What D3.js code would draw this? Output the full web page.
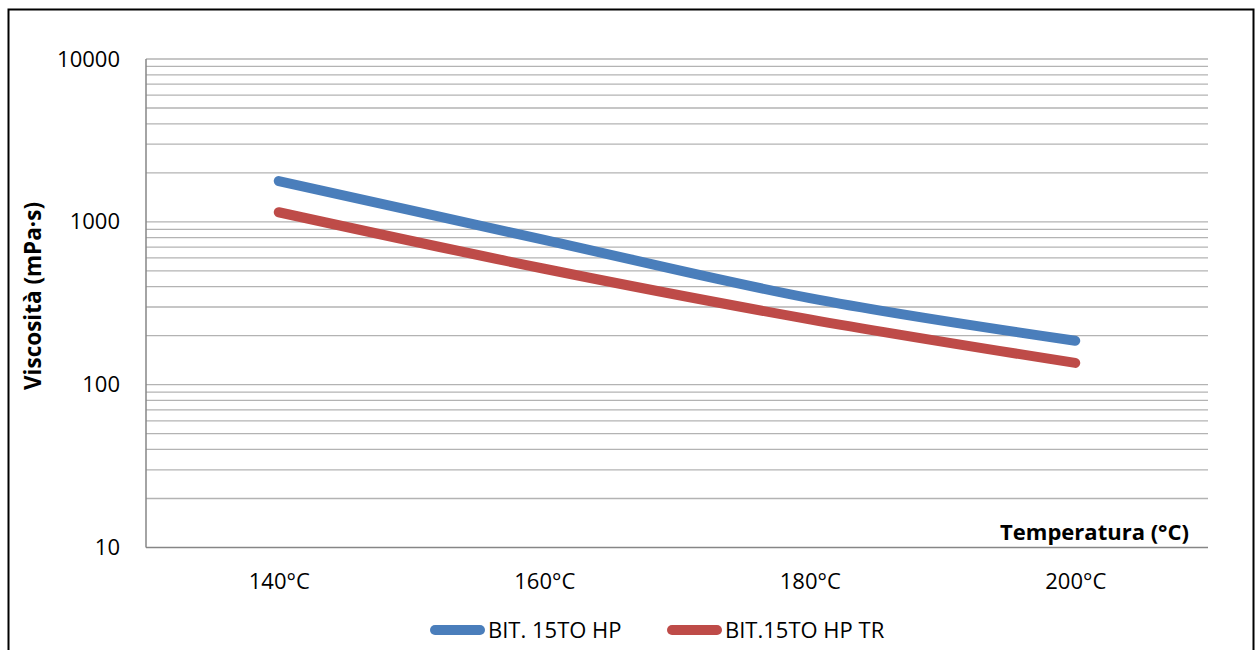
<!DOCTYPE html>
<html>
<head>
<meta charset="utf-8">
<script src="https://cdn.jsdelivr.net/npm/d3@7"></script>
<style>
  html, body { margin: 0; padding: 0; background: #fff; }
  svg { display: block; font-family: "Open Sans", Lato, sans-serif; }
</style>
</head>
<body>
<div id="chart"></div>
<script>
const categories = ['140°C', '160°C', '180°C', '200°C'];
const seriesNames = ['BIT. 15TO HP', 'BIT.15TO HP TR'];
const hpValues = [1780, 775, 340, 186];
const hpTrValues = [1145, 515, 252, 136];
const yTickValues = [10, 100, 1000, 10000];
const seriesColors = ['#4a7ebb', '#be4b48'];

const width = 1258;
const height = 650;
const plotLeft = 146, plotRight = 1208, plotTop = 59, plotBottom = 547.5;

const series = [
  { name: seriesNames[0], values: hpValues, color: seriesColors[0] },
  { name: seriesNames[1], values: hpTrValues, color: seriesColors[1] }
];

const svg = d3.select('#chart').append('svg')
  .attr('width', width)
  .attr('height', height);

// outer frame
svg.append('rect')
  .attr('x', 8.5).attr('y', 9.5)
  .attr('width', 1245).attr('height', 700)
  .attr('fill', 'none')
  .attr('stroke', '#000')
  .attr('stroke-width', 2);

const x = d3.scalePoint().domain(categories).range([plotLeft, plotRight]).padding(0.5);
const y = d3.scaleLog().domain([10, 10000]).range([plotBottom, plotTop]);

// gridlines, minor and major
svg.append('g')
  .selectAll('line')
  .data(y.ticks().filter(d => d > 10))
  .join('line')
  .attr('x1', plotLeft).attr('x2', plotRight)
  .attr('y1', d => y(d)).attr('y2', d => y(d))
  .attr('stroke', '#b3b3b3')
  .attr('stroke-width', 1.3);

// axis lines
svg.append('line')
  .attr('x1', plotLeft).attr('x2', plotLeft).attr('y1', plotTop).attr('y2', plotBottom)
  .attr('stroke', '#868686').attr('stroke-width', 1.5);
svg.append('line')
  .attr('x1', plotLeft).attr('x2', plotRight).attr('y1', plotBottom).attr('y2', plotBottom)
  .attr('stroke', '#868686').attr('stroke-width', 1.5);

const yAxis = svg.append('g')
  .attr('transform', `translate(${plotLeft},0)`)
  .call(d3.axisLeft(y).tickValues(yTickValues).tickFormat(d3.format('d')).tickSize(0).tickPadding(26));
yAxis.select('.domain').remove();
yAxis.selectAll('text').attr('font-size', 22).attr('fill', '#000').attr('font-family', '"Open Sans", sans-serif');

const xAxis = svg.append('g')
  .attr('transform', `translate(0,${plotBottom})`)
  .call(d3.axisBottom(x).tickSize(0).tickPadding(26));
xAxis.select('.domain').remove();
xAxis.selectAll('text').attr('font-size', 22).attr('fill', '#000').attr('font-family', '"Open Sans", sans-serif');

// series lines
const line = d3.line()
  .x((d, i) => x(categories[i]))
  .y(d => y(d))
  .curve(d3.curveCatmullRom);

svg.append('g')
  .selectAll('path')
  .data(series)
  .join('path')
  .attr('d', d => line(d.values))
  .attr('fill', 'none')
  .attr('stroke', d => d.color)
  .attr('stroke-width', 10)
  .attr('stroke-linecap', 'round')
  .attr('stroke-linejoin', 'round');

// axis titles
svg.append('text')
  .attr('transform', 'translate(41,296) rotate(-90)')
  .attr('text-anchor', 'middle')
  .attr('font-size', 22.5)
  .attr('font-weight', 'bold')
  .text('Viscosità (mPa·s)');

svg.append('text')
  .attr('x', 1189).attr('y', 540)
  .attr('text-anchor', 'end')
  .attr('font-size', 22)
  .attr('font-weight', 'bold')
  .text('Temperatura (°C)');

// legend
const legendX = [435, 672];
const legend = svg.append('g')
  .selectAll('g')
  .data(series)
  .join('g')
  .attr('transform', (d, i) => `translate(${legendX[i]},630)`);
legend.append('line')
  .attr('x1', 0).attr('x2', 45)
  .attr('stroke', d => d.color)
  .attr('stroke-width', 10)
  .attr('stroke-linecap', 'round');
legend.append('text')
  .attr('x', 53).attr('y', 8)
  .attr('font-size', 22)
  .text(d => d.name);
</script>
</body>
</html>
